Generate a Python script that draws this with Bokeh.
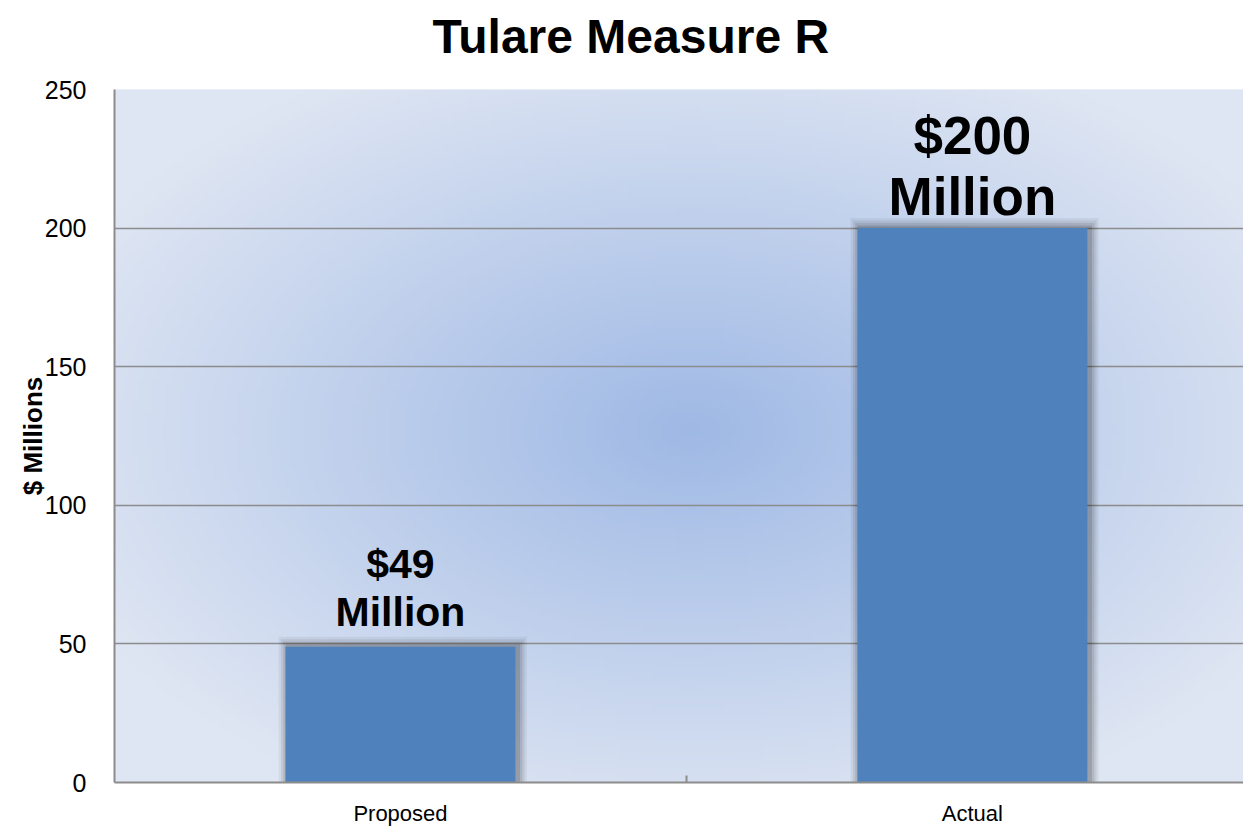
import numpy as np
from bokeh.plotting import figure
from bokeh.models import ColumnDataSource, Range1d, FixedTicker, Title
from bokeh.core.properties import value
from bokeh.embed import file_html
from bokeh.resources import INLINE

# ---- data ----
categories = ["Proposed", "Actual"]
values = [49, 200]
label_texts = ["$49\nMillion", "$200\nMillion"]
y_ticks = [0, 50, 100, 150, 200, 250]
title_text = "Tulare Measure R"
y_title = "$ Millions"

# ---- styles ----
label_sizes = ["41px", "53px"]
label_offsets = [-12, -2]
bar_color = "#4f81bd"
grid_color = "#8c8c8c"
FONT = "Liberation Sans"

x_pos = [i + 0.5 for i in range(len(categories))]
divider_pos = [float(i) for i in range(1, len(categories))]

p = figure(width=1243, height=828, output_backend="svg", toolbar_location=None,
           title=None,
           x_range=Range1d(0, 1.974), y_range=Range1d(0, 250),
           min_border_left=114, min_border_right=0, min_border_top=89,
           min_border_bottom=46)
p.outline_line_color = None
p.background_fill_color = "#dfe6f3"

# ---- soft radial background ----
nx, ny = 240, 150
fx0, fx1, fy0, fy1 = 114.0, 1258.0, 782.0, 89.0
cx, cy, ax, ay = 690.0, 430.0, 575.0, 350.0
X = fx0 + (np.arange(nx) + 0.5) / nx * (fx1 - fx0)
Y = fy0 - (np.arange(ny) + 0.5) / ny * (fy0 - fy1)
XX, YY = np.meshgrid(X, Y)
r = np.sqrt(((XX - cx) / ax) ** 2 + ((YY - cy) / ay) ** 2)
f = np.clip(0.85 * r, 0, 1)
c0 = np.array([159, 185, 229])
c1 = np.array([223, 230, 243])
img = np.empty((ny, nx), dtype=np.uint32)
view = img.view(dtype=np.uint8).reshape((ny, nx, 4))
for k in range(3):
    view[:, :, k] = (c0[k] + (c1[k] - c0[k]) * f).astype(np.uint8)
view[:, :, 3] = 255
bg = p.image_rgba(image=[img], x=0, y=0, dw=2, dh=250)
bg.level = "image"

# ---- bars with soft shadow ----
src = ColumnDataSource(dict(x=x_pos, top=values, text=label_texts,
                            size=label_sizes, yoff=label_offsets))
for k, a in zip(range(4, 0, -1), [0.05, 0.07, 0.09, 0.12]):
    sh = ColumnDataSource(dict(x=[v + 0.004 for v in x_pos],
                               top=[t + 0.9 * k for t in values]))
    p.vbar(x="x", top="top", bottom=0, width=0.402 + 0.008 * k, source=sh,
           fill_color="black", fill_alpha=a, line_color=None)
p.vbar(x="x", top="top", bottom=0, width=0.402, source=src,
       fill_color=bar_color, line_color=None)

p.text(x="x", y="top", text="text", source=src, text_font=value(FONT),
       text_font_style="bold", text_font_size="size", text_align="center",
       text_baseline="bottom", y_offset="yoff", text_color="black",
       text_line_height=1.03)

# ---- grid ----
p.xgrid.visible = False
p.ygrid.ticker = FixedTicker(ticks=y_ticks)
p.ygrid.grid_line_color = grid_color
p.ygrid.grid_line_width = 1.5

# ---- y axis ----
p.yaxis.ticker = FixedTicker(ticks=y_ticks)
p.yaxis.major_label_text_font = FONT
p.yaxis.major_label_text_font_size = "25px"
p.yaxis.major_label_text_color = "black"
p.yaxis.major_tick_line_color = None
p.yaxis.minor_tick_line_color = None
p.yaxis.axis_line_color = grid_color
p.yaxis.axis_line_width = 2
p.yaxis.major_label_standoff = 22
p.yaxis.axis_label = y_title
p.yaxis.axis_label_text_font = FONT
p.yaxis.axis_label_text_font_style = "bold"
p.yaxis.axis_label_text_font_size = "26px"
p.yaxis.axis_label_text_color = "black"
p.yaxis.axis_label_standoff = -6

# ---- x axis ----
p.xaxis.ticker = FixedTicker(ticks=x_pos, minor_ticks=divider_pos)
p.xaxis.major_label_overrides = {x: c for x, c in zip(x_pos, categories)}
p.xaxis.major_label_text_font = FONT
p.xaxis.major_label_text_font_size = "22px"
p.xaxis.major_label_text_color = "black"
p.xaxis.major_tick_in = 0
p.xaxis.major_tick_out = 0
p.xaxis.minor_tick_in = 7
p.xaxis.minor_tick_out = 0
p.xaxis.minor_tick_line_color = grid_color
p.xaxis.minor_tick_line_width = 2
p.xaxis.axis_line_color = grid_color
p.xaxis.axis_line_width = 2
p.xaxis.major_label_standoff = 18

# ---- title: a thin spacer next to the frame, then the title above it ----
spacer = Title(text=" ", text_font_size="1px", standoff=24)
p.add_layout(spacer, "above")
main_title = Title(text=title_text, align="left", offset=318, standoff=0,
                   text_font=FONT, text_font_style="bold",
                   text_font_size="48px", text_color="black")
p.add_layout(main_title, "above")

open("out.html", "w").write(file_html(p, INLINE))
